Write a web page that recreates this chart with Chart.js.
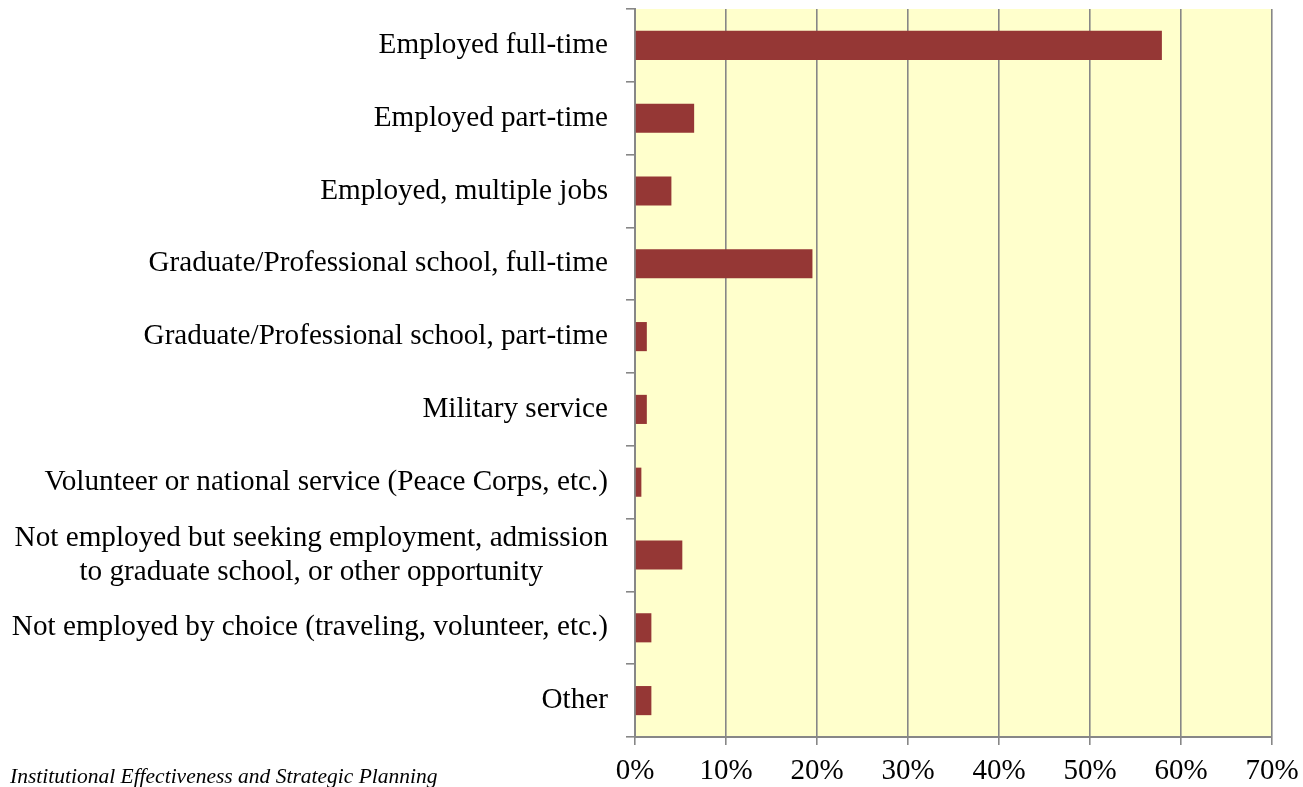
<!DOCTYPE html>
<html>
<head>
<meta charset="utf-8">
<script src="https://cdn.jsdelivr.net/npm/chart.js@4"></script>
<style>
  html, body { margin: 0; padding: 0; background: #fff; }
  #wrap { position: relative; width: 1303px; height: 787px; }
  #footer {
    position: absolute; left: 10px; top: 766px;
    font: italic 21.5px "Liberation Serif", "Times New Roman", serif;
    line-height: 1; color: #000; white-space: nowrap;
  }
</style>
</head>
<body>
<div id="wrap">
  <canvas id="barChart" width="1303" height="787"></canvas>
  <div id="footer">Institutional Effectiveness and Strategic Planning</div>
</div>
<script>
    const categories = [
        'Employed full-time',
        'Employed part-time',
        'Employed, multiple jobs',
        'Graduate/Professional school, full-time',
        'Graduate/Professional school, part-time',
        'Military service',
        'Volunteer or national service (Peace Corps, etc.)',
        ['Not employed but seeking employment, admission', 'to graduate school, or other opportunity'],
        'Not employed by choice (traveling, volunteer, etc.)',
        'Other'
    ];
    const percentages = [57.9, 6.5, 4.0, 19.5, 1.3, 1.3, 0.7, 5.2, 1.8, 1.8];
    const xTickValues = [0, 10, 20, 30, 40, 50, 60, 70];

    const FONT = '"Liberation Serif", "Times New Roman", serif';
    const gridGray = '#878787';

    // ---------------- Plugins ----------------
    const plotBackground = {
        id: 'plotBackground',
        beforeDraw(chart) {
            const { ctx, chartArea: a } = chart;
            ctx.save();
            ctx.fillStyle = '#ffffcc';
            ctx.fillRect(a.left, a.top, a.right - a.left, a.bottom - a.top);
            ctx.restore();
        }
    };

    // category labels: right aligned, multi-line blocks centred on their widest line
    const categoryLabels = {
        id: 'categoryLabels',
        afterDraw(chart) {
            const { ctx, chartArea } = chart;
            const yScale = chart.scales.y;
            const rightEdge = chartArea.left - 27;
            const lineH = 34;
            ctx.save();
            ctx.font = '29.2px ' + FONT;
            ctx.fillStyle = '#000';
            ctx.textBaseline = 'middle';
            ctx.textAlign = 'center';
            categories.forEach((lab, i) => {
                const lines = Array.isArray(lab) ? lab : [lab];
                const widest = Math.max(...lines.map(l => ctx.measureText(l).width));
                const cx = rightEdge - widest / 2;
                const cy = yScale.getPixelForValue(i);
                const y0 = cy - (lines.length - 1) * lineH / 2;
                lines.forEach((l, j) => ctx.fillText(l, cx, y0 + j * lineH));
            });
            ctx.restore();
        }
    };

    const ctx = document.getElementById('barChart').getContext('2d');
    new Chart(ctx, {
        type: 'bar',
        data: {
            labels: categories,
            datasets: [{
                data: percentages,
                backgroundColor: '#953735',
                borderWidth: 0,
                barPercentage: 0.4,
                categoryPercentage: 1.0
            }]
        },
        options: {
            indexAxis: 'y',
            responsive: false,
            animation: false,
            layout: { padding: { top: 9, right: 31, left: 0, bottom: 0 } },
            plugins: {
                legend: { display: false },
                tooltip: { enabled: false }
            },
            scales: {
                x: {
                    min: 0, max: 70,
                    afterBuildTicks: scale => {
                        scale.ticks = xTickValues.map(v => ({ value: v }));
                    },
                    afterFit: scale => {
                        scale.height = 50;
                        scale.paddingLeft = 0;
                        scale.paddingRight = 0;
                    },
                    ticks: {
                        callback: v => v + '%',
                        color: '#000',
                        padding: 9,
                        maxRotation: 0,
                        font: { family: FONT, size: 29 }
                    },
                    grid: {
                        color: gridGray,
                        lineWidth: 1.6,
                        tickLength: 8
                    },
                    border: { color: gridGray, width: 2 }
                },
                y: {
                    afterFit: scale => { scale.width = 635; },
                    ticks: { display: false },
                    grid: {
                        offset: true,
                        drawOnChartArea: false,
                        color: gridGray,
                        lineWidth: 1.6,
                        tickLength: 9
                    },
                    border: { color: gridGray, width: 2 }
                }
            }
        },
        plugins: [plotBackground, categoryLabels]
    });
</script>
</body>
</html>
